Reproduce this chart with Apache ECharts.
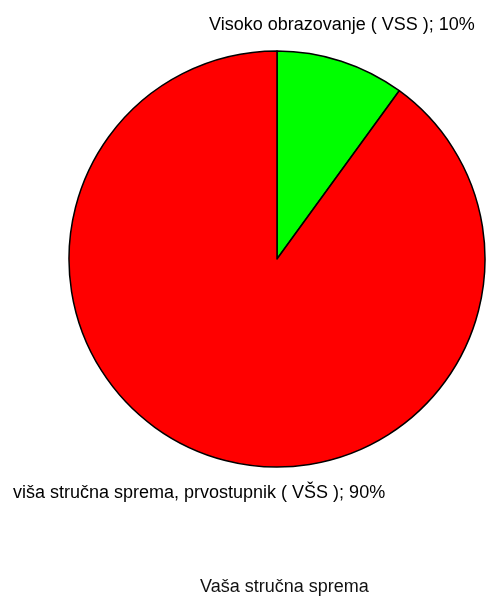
<!DOCTYPE html>
<html>
<head>
<meta charset="utf-8">
<script src="https://cdn.jsdelivr.net/npm/echarts@6/dist/echarts.min.js"></script>
<style>html,body{margin:0;padding:0;background:#fff;}#c{width:487px;height:597px;}</style>
</head>
<body>
<div id="c"></div>
<script>
var categories = ["Visoko obrazovanje ( VSS )", "viša stručna sprema, prvostupnik ( VŠS )"];
var values = [10, 90];
var colors = ["#00FF00", "#FF0000"];
var chartTitle = "Vaša stručna sprema";

var labelPos = [
  {x: 209, y: 25},
  {x: 13, y: 493}
];

var chart = echarts.init(document.getElementById('c'), null, {renderer: 'canvas'});
chart.setOption({
  animation: false,
  backgroundColor: '#fff',
  title: {
    text: chartTitle,
    left: 195,
    top: 573,
    textStyle: {fontFamily: 'Liberation Sans', fontSize: 18, fontWeight: 'normal', color: '#111'}
  },
  series: [{
    type: 'pie',
    center: [277, 259],
    radius: 208,
    startAngle: 90,
    clockwise: true,
    avoidLabelOverlap: false,
    itemStyle: {borderColor: '#000', borderWidth: 1.5},
    label: {
      show: true,
      position: 'outside',
      formatter: function (p) { return p.name + '; ' + p.value + '%'; },
      fontFamily: 'Liberation Sans',
      fontSize: 18,
      color: '#000'
    },
    labelLine: {show: false},
    labelLayout: function (params) {
      var p = labelPos[params.dataIndex];
      return {x: p.x, y: p.y, align: 'left', verticalAlign: 'middle'};
    },
    data: categories.map(function (c, i) {
      return {name: c, value: values[i], itemStyle: {color: colors[i]}};
    })
  }]
});
</script>
</body>
</html>
